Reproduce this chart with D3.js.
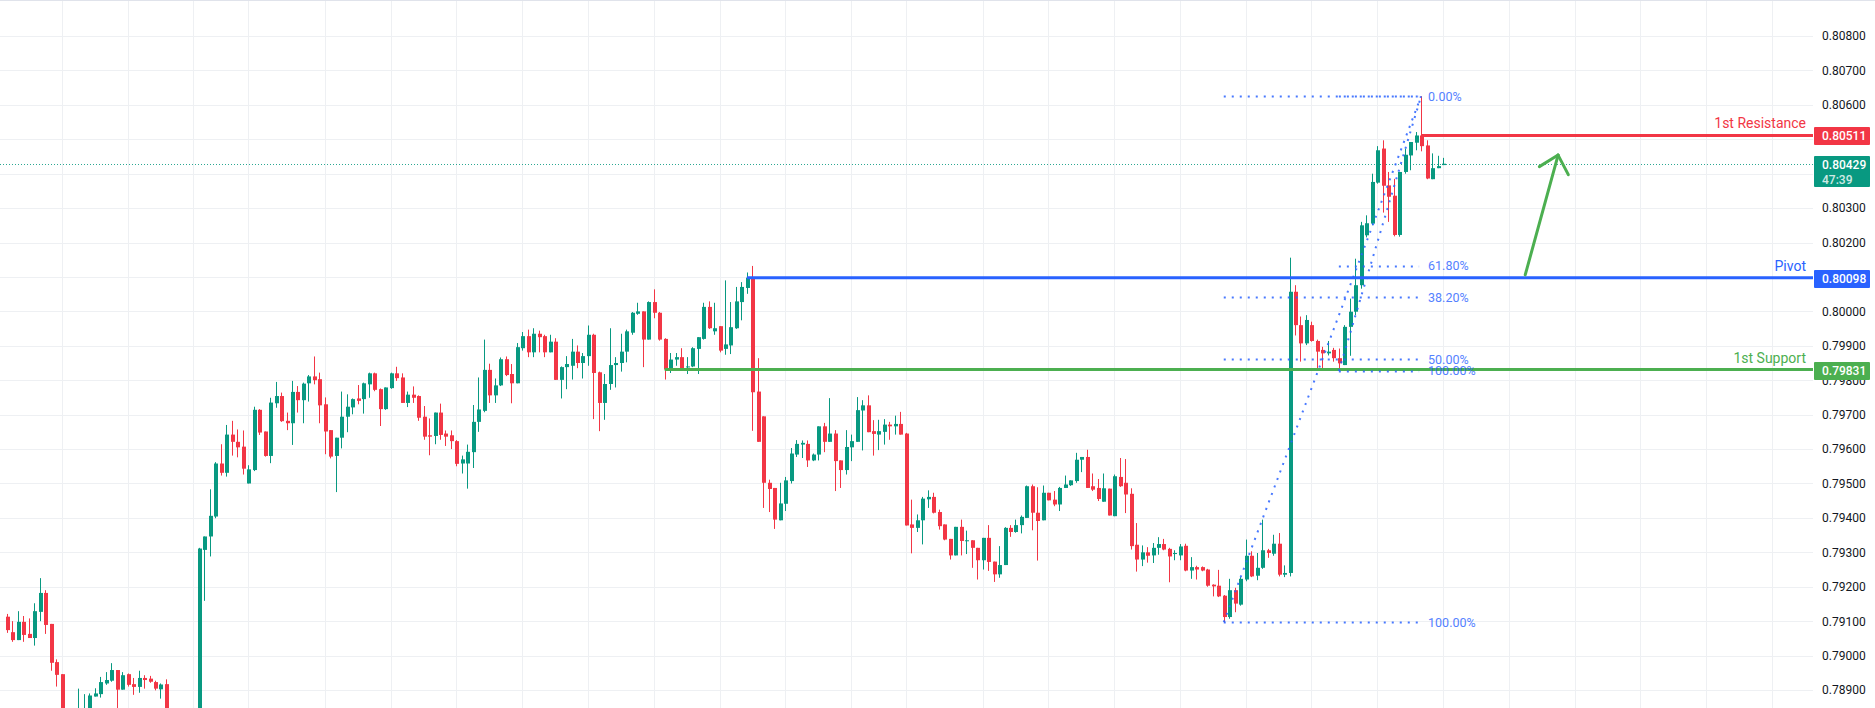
<!DOCTYPE html>
<html><head><meta charset="utf-8">
<script src="https://cdn.jsdelivr.net/npm/d3@7"></script>
<style>html,body{margin:0;padding:0;background:#fff;}svg{display:block;}</style>
</head><body>
<svg id="chart" width="1875" height="708"></svg>
<script>
// ---------- DATA ----------
const openP = [
.79113,.79068,.79045,.79098,.79063,.79051,.79127,.79182,.79092,.78981,
.78946,.78800,.78770,.78800,.78810,.78830,.78881,.78888,.78919,.78927,
.78958,.78901,.78946,.78917,.78909,.78935,.78933,.78923,.78902,.78917,
.78830,.78790,.78810,.78780,.78800,.78770,.79307,.79346,.79404,.79558,
.79531,.79642,.79621,.79607,.79500,.79539,.79714,.79651,.79580,.79733,
.79754,.79682,.79675,.79766,.79742,.79791,.79811,.79803,.79730,.79655,
.79580,.79633,.79694,.79721,.79747,.79745,.79788,.79820,.79774,.79716,
.79777,.79820,.79808,.79734,.79758,.79754,.79694,.79640,.79638,.79706,
.79645,.79640,.79623,.79558,.79558,.79591,.79679,.79711,.79830,.79756,
.79785,.79861,.79818,.79791,.79893,.79928,.79881,.79935,.79928,.79881,
.79912,.79801,.79838,.79842,.79883,.79850,.79870,.79932,.79823,.79734,
.79789,.79844,.79850,.79883,.79938,.79993,.80000,.79918,.80027,.79996,
.79920,.79831,.79860,.79867,.79838,.79840,.79891,.79920,.80013,.79942,
.79957,.79891,.79901,.79951,.80027,.80068,.80100,.79767,.79695,.79502,
.79487,.79393,.79441,.79507,.79584,.79613,.79615,.79567,.79584,.79666,
.79621,.79645,.79567,.79539,.79605,.79621,.79712,.79727,.79652,.79642,
.79650,.79671,.79666,.79673,.79645,.79381,.79371,.79393,.79454,.79461,
.79417,.79381,.79339,.79291,.79374,.79333,.79335,.79313,.79277,.79342,
.79273,.79236,.79263,.79371,.79359,.79379,.79400,.79492,.79415,.79393,
.79473,.79453,.79439,.79487,.79495,.79507,.79569,.79577,.79492,.79487,
.79447,.79485,.79405,.79519,.79502,.79470,.79322,.79279,.79300,.79291,
.79313,.79324,.79310,.79295,.79291,.79319,.79247,.79257,.79257,.79250,
.79206,.79203,.79174,.79112,.79190,.79148,.79221,.79290,.79232,.79255,
.79306,.79296,.79325,.79235,.79240,.80057,.79960,.79907,.79960,.79914,
.79888,.79878,.79888,.79864,.79844,.79955,.79999,.80076,.80221,.80255,
.80374,.80473,.80366,.80336,.80222,.80405,.80453,.80490,.80511,.80482,
.80384,.80416,.80425];
const highP = [
.79121,.79100,.79129,.79115,.79108,.79152,.79225,.79190,.79092,.78989,
.78946,.78830,.78830,.78904,.78888,.78890,.78905,.78938,.78952,.78978,
.78958,.78952,.78948,.78935,.78956,.78943,.78941,.78927,.78919,.78931,
.78840,.78830,.78825,.78830,.78820,.79313,.79346,.79483,.79562,.79614,
.79670,.79682,.79657,.79654,.79553,.79723,.79716,.79651,.79749,.79795,
.79764,.79706,.79798,.79783,.79793,.79815,.79869,.79822,.79750,.79655,
.79633,.79767,.79759,.79747,.79786,.79793,.79822,.79822,.79776,.79779,
.79822,.79839,.79820,.79767,.79782,.79756,.79725,.79689,.79706,.79732,
.79654,.79654,.79626,.79581,.79613,.79728,.79808,.79918,.79848,.79805,
.79866,.79869,.79847,.79908,.79940,.79947,.79951,.79944,.79932,.79932,
.79922,.79840,.79870,.79920,.79901,.79879,.79959,.79935,.79825,.79818,
.79951,.79867,.79935,.79947,.79998,.80025,.80000,.80029,.80064,.79998,
.79922,.79879,.79879,.79893,.79867,.79896,.79925,.80025,.80029,.80025,
.79957,.80090,.80027,.80071,.80085,.80113,.80132,.79864,.79695,.79511,
.79487,.79502,.79519,.79603,.79626,.79625,.79625,.79587,.79666,.79676,
.79748,.79655,.79567,.79655,.79642,.79751,.79742,.79756,.79684,.79685,
.79687,.79679,.79697,.79708,.79647,.79453,.79410,.79461,.79480,.79473,
.79424,.79381,.79339,.79374,.79395,.79363,.79335,.79313,.79342,.79379,
.79273,.79318,.79373,.79379,.79395,.79407,.79494,.79497,.79489,.79494,
.79473,.79478,.79490,.79523,.79509,.79589,.79577,.79598,.79529,.79513,
.79529,.79485,.79526,.79574,.79571,.79486,.79385,.79320,.79315,.79327,
.79344,.79339,.79313,.79306,.79324,.79325,.79286,.79261,.79259,.79252,
.79207,.79249,.79176,.79223,.79197,.79228,.79337,.79303,.79298,.79395,
.79310,.79351,.79356,.79262,.80156,.80076,.79985,.79989,.79970,.79918,
.79897,.79914,.79894,.79892,.79960,.80037,.80153,.80260,.80279,.80400,
.80480,.80497,.80405,.80385,.80405,.80473,.80492,.80521,.80625,.80497,
.80459,.80452,.80446];
const lowP = [
.79066,.79040,.79045,.79040,.79051,.79029,.79100,.79063,.78956,.78910,
.78780,.78740,.78750,.78790,.78800,.78820,.78881,.78878,.78915,.78924,
.78830,.78901,.78910,.78886,.78892,.78904,.78921,.78899,.78875,.78800,
.78770,.78760,.78760,.78770,.78750,.78760,.79159,.79288,.79399,.79523,
.79520,.79581,.79576,.79526,.79500,.79536,.79641,.79578,.79559,.79720,
.79679,.79655,.79612,.79706,.79675,.79738,.79788,.79675,.79585,.79573,
.79475,.79602,.79649,.79701,.79730,.79703,.79749,.79768,.79667,.79714,
.79775,.79798,.79734,.79722,.79734,.79682,.79627,.79582,.79614,.79627,
.79609,.79600,.79550,.79529,.79485,.79545,.79650,.79707,.79734,.79734,
.79783,.79812,.79733,.79791,.79886,.79867,.79867,.79881,.79867,.79881,
.79801,.79747,.79774,.79802,.79835,.79805,.79842,.79687,.79652,.79685,
.79772,.79779,.79825,.79852,.79932,.79990,.79838,.79918,.79980,.79915,
.79802,.79821,.79842,.79831,.79818,.79838,.79818,.79918,.79949,.79932,
.79881,.79874,.79876,.79949,.79974,.80051,.79653,.79621,.79429,.79417,
.79368,.79393,.79420,.79500,.79577,.79574,.79548,.79565,.79567,.79591,
.79621,.79478,.79487,.79526,.79565,.79621,.79596,.79649,.79581,.79597,
.79613,.79627,.79642,.79642,.79378,.79297,.79359,.79323,.79429,.79413,
.79366,.79335,.79279,.79291,.79291,.79295,.79255,.79221,.79250,.79246,
.79214,.79226,.79263,.79345,.79357,.79355,.79400,.79364,.79276,.79393,
.79451,.79434,.79420,.79487,.79493,.79502,.79533,.79487,.79478,.79449,
.79447,.79407,.79405,.79490,.79414,.79308,.79244,.79260,.79270,.79269,
.79293,.79306,.79213,.79277,.79277,.79245,.79223,.79221,.79245,.79200,
.79172,.79170,.79097,.79107,.79126,.79145,.79216,.79228,.79219,.79252,
.79284,.79290,.79230,.79228,.79230,.79930,.79854,.79902,.79912,.79830,
.79830,.79872,.79854,.79827,.79844,.79871,.79989,.80066,.80215,.80250,
.80371,.80287,.80260,.80218,.80217,.80400,.80410,.80468,.80465,.80384,
.80384,.80416,.80425];
const closeP = [
.79074,.79045,.79098,.79060,.79051,.79129,.79182,.79089,.78979,.78944,
.78800,.78770,.78800,.78840,.78845,.78884,.78890,.78923,.78929,.78958,
.78901,.78943,.78915,.78909,.78935,.78929,.78924,.78904,.78916,.78830,
.78790,.78810,.78780,.78800,.78770,.79311,.79346,.79406,.79558,.79531,
.79642,.79621,.79605,.79543,.79541,.79714,.79648,.79580,.79735,.79754,
.79681,.79675,.79766,.79742,.79790,.79811,.79800,.79727,.79651,.79578,
.79633,.79694,.79723,.79745,.79740,.79791,.79820,.79772,.79716,.79779,
.79820,.79806,.79734,.79758,.79749,.79691,.79636,.79636,.79706,.79641,
.79636,.79623,.79557,.79570,.79592,.79679,.79715,.79830,.79756,.79785,
.79861,.79815,.79791,.79896,.79928,.79881,.79935,.79925,.79881,.79912,
.79801,.79838,.79847,.79883,.79850,.79870,.79932,.79821,.79734,.79789,
.79844,.79850,.79883,.79942,.79996,.80000,.79918,.80027,.79996,.79918,
.79831,.79860,.79867,.79835,.79840,.79893,.79925,.80013,.79951,.79951,
.79886,.79904,.79954,.80029,.80071,.80098,.79765,.79621,.79502,.79484,
.79395,.79442,.79509,.79587,.79615,.79618,.79567,.79584,.79666,.79621,
.79645,.79565,.79539,.79606,.79623,.79713,.79727,.79649,.79644,.79652,
.79671,.79666,.79673,.79642,.79378,.79371,.79393,.79456,.79461,.79415,
.79376,.79337,.79291,.79374,.79333,.79335,.79313,.79277,.79342,.79272,
.79236,.79263,.79371,.79359,.79379,.79403,.79492,.79415,.79391,.79473,
.79451,.79439,.79487,.79497,.79509,.79569,.79577,.79487,.79482,.79455,
.79486,.79407,.79521,.79492,.79468,.79318,.79279,.79300,.79290,.79313,
.79324,.79308,.79288,.79298,.79317,.79247,.79257,.79250,.79247,.79203,
.79201,.79172,.79112,.79190,.79151,.79223,.79290,.79230,.79255,.79306,
.79298,.79325,.79235,.79240,.80057,.79960,.79907,.79975,.79914,.79883,
.79878,.79883,.79864,.79849,.79955,.79999,.80076,.80250,.80256,.80376,
.80468,.80365,.80333,.80222,.80405,.80455,.80492,.80511,.80480,.80386,
.80416,.80422,.80429];

const priceTicks = [0.789,0.790,0.791,0.792,0.793,0.794,0.795,0.796,0.797,0.798,
                    0.799,0.800,0.801,0.802,0.803,0.804,0.805,0.806,0.807,0.808];
const timeGridSlots = [10,22,34,44,58,70,82,94,106,118,130,142,154,164,178,190,202,214,226,238,250,262,274,286,298,310,322];

const levelNames  = ["1st Resistance", "Pivot", "1st Support"];
const levelValues = [0.80511, 0.80098, 0.79831];
const levelStartBar = [258, 135, 120];

const lastPrice = 0.80429;
const countdownText = "47:39";

const fibLowBar  = [222, 243];
const fibLowVal  = [0.79097, 0.79827];
const fibHighBar = [258, 258];
const fibHighVal = [0.80625, 0.80625];
const fibLevels  = [[0, 0.382, 0.5, 1], [0, 0.618, 1]];

const arrowFrom = [277, 0.80106];
const arrowTo   = [283, 0.80454];

// ---------- STYLE ----------
const C_UP = "#089981", C_DN = "#f23645", C_BLUE = "#2962ff", C_GREEN = "#4caf50";
const levelColors = [C_DN, C_BLUE, C_GREEN];
const FONT = "Roboto, 'Liberation Sans', Arial, sans-serif";

const W = 1875, H = 708, plotR = 1813;
const N = openP.length;
const svg = d3.select("#chart");
const x = d3.scaleLinear().domain([0, N - 1]).range([7, 1443]);
const y = d3.scaleLinear().domain([0.789, 0.808]).range([690, 36]);

svg.append("defs").append("clipPath").attr("id", "plotclip")
  .append("rect").attr("x", 0).attr("y", 0).attr("width", plotR).attr("height", H);

// grid
const grid = svg.append("g");
grid.selectAll("line.h").data(priceTicks).join("line")
  .attr("x1", 0).attr("x2", plotR)
  .attr("y1", d => Math.round(y(d)) + 0.5).attr("y2", d => Math.round(y(d)) + 0.5)
  .attr("stroke", "#eef0f3").attr("stroke-width", 1);
grid.selectAll("line.v").data(timeGridSlots).join("line")
  .attr("x1", d => Math.round(x(d)) + 0.5).attr("x2", d => Math.round(x(d)) + 0.5)
  .attr("y1", 0).attr("y2", H)
  .attr("stroke", "#eef0f3").attr("stroke-width", 1);
svg.append("line").attr("x1", 0).attr("x2", W).attr("y1", 0.5).attr("y2", 0.5)
  .attr("stroke", "#e0e3eb");

const plot = svg.append("g").attr("clip-path", "url(#plotclip)");

// last price dotted line
plot.append("line").attr("x1", 0).attr("x2", plotR)
  .attr("y1", Math.round(y(lastPrice)) + 0.5).attr("y2", Math.round(y(lastPrice)) + 0.5)
  .attr("stroke", C_UP).attr("stroke-width", 1).attr("stroke-dasharray", "1,2").attr("opacity", 0.85);

// candles
const bars = plot.append("g");
const idx = d3.range(N);
const col = i => closeP[i] >= openP[i] ? C_UP : C_DN;
bars.selectAll("rect.wick").data(idx).join("rect")
  .attr("x", i => Math.round(x(i)))
  .attr("y", i => y(highP[i]))
  .attr("width", 1)
  .attr("height", i => Math.max(1, y(lowP[i]) - y(highP[i])))
  .attr("fill", col);
bars.selectAll("rect.body").data(idx).join("rect")
  .attr("x", i => Math.round(x(i)) - 1)
  .attr("y", i => y(Math.max(openP[i], closeP[i])))
  .attr("width", 4)
  .attr("height", i => Math.max(1, Math.abs(y(openP[i]) - y(closeP[i]))))
  .attr("fill", col);

// horizontal levels
const lv = plot.append("g");
levelValues.forEach((v, k) => {
  lv.append("line")
    .attr("x1", x(levelStartBar[k])).attr("x2", plotR)
    .attr("y1", y(v)).attr("y2", y(v))
    .attr("stroke", levelColors[k]).attr("stroke-width", 3);
  lv.append("text").text(levelNames[k])
    .attr("x", 1806).attr("y", y(v) - 7)
    .attr("text-anchor", "end").attr("fill", levelColors[k])
    .attr("font-family", FONT).attr("font-size", 14);
});

// fib retracements
const fg = plot.append("g");
const labelled = new Set();
fibLowBar.forEach((lb, k) => {
  const hb = fibHighBar[k], lo = fibLowVal[k], hi = fibHighVal[k];
  fg.append("line")
    .attr("x1", x(lb)).attr("y1", y(lo)).attr("x2", x(hb)).attr("y2", y(hi))
    .attr("stroke", C_BLUE).attr("stroke-width", 2).attr("stroke-dasharray", "2,6").attr("opacity", 0.85);
  fibLevels[k].forEach(p => {
    const v = hi - p * (hi - lo);
    fg.append("line")
      .attr("x1", x(lb)).attr("x2", x(hb) - 2)
      .attr("y1", Math.round(y(v)) + 0.5).attr("y2", Math.round(y(v)) + 0.5)
      .attr("stroke", C_BLUE).attr("stroke-width", 2).attr("stroke-dasharray", "2,6").attr("opacity", 0.85);
    const key = v.toFixed(5);
    if (!labelled.has(key)) {
      labelled.add(key);
      fg.append("text").text((p * 100).toFixed(2) + "%")
        .attr("x", x(hb) + 7).attr("y", y(v)).attr("dy", "0.35em")
        .attr("fill", C_BLUE).attr("opacity", 0.8)
        .attr("font-family", FONT).attr("font-size", 12.5);
    }
  });
});

// arrow
const ax1 = x(arrowFrom[0]), ay1 = y(arrowFrom[1]), ax2 = x(arrowTo[0]), ay2 = y(arrowTo[1]);
const ang = Math.atan2(ay1 - ay2, ax1 - ax2);
const hl = 22, spread = 43 * Math.PI / 180;
const ag = plot.append("g").attr("stroke", C_GREEN).attr("stroke-width", 3).attr("stroke-linecap", "round").attr("fill", "none");
ag.append("line").attr("x1", ax1).attr("y1", ay1).attr("x2", ax2).attr("y2", ay2);
[ang - spread, ang + spread].forEach(a => {
  ag.append("line").attr("x1", ax2).attr("y1", ay2)
    .attr("x2", ax2 + hl * Math.cos(a)).attr("y2", ay2 + hl * Math.sin(a));
});

// price boxes geometry (used to hide axis ticks that they cover)
const boxSpecs = levelValues.map((v, k) => ({ v, color: levelColors[k], lines: [v.toFixed(5)] }));
boxSpecs.push({ v: lastPrice, color: C_UP, lines: [lastPrice.toFixed(5), countdownText] });
boxSpecs.forEach(b => { b.h = b.lines.length > 1 ? 31 : 18; b.top = Math.round(y(b.v)) - 8; });
const covered = t => boxSpecs.some(b => y(t) > b.top + 2 && y(t) < b.top + b.h - 2);

// right price axis
const axis = d3.axisRight(y).tickValues(priceTicks.filter(t => !covered(t)))
  .tickFormat(d3.format(".5f")).tickSize(0).tickPadding(9);
const axg = svg.append("g").attr("transform", `translate(${plotR},0)`).call(axis);
axg.select(".domain").remove();
axg.selectAll("text").attr("fill", "#131722").attr("font-family", FONT).attr("font-size", 12);

// price boxes
const boxes = svg.append("g");
boxSpecs.forEach(b => {
  boxes.append("rect").attr("x", plotR + 1).attr("y", b.top).attr("width", 56).attr("height", b.h)
    .attr("rx", 1).attr("fill", b.color);
  b.lines.forEach((t, j) => {
    boxes.append("text").text(t)
      .attr("x", plotR + 9).attr("y", b.top + 13 + j * 15)
      .attr("fill", "#fff").attr("opacity", j ? 0.8 : 1)
      .attr("font-family", FONT).attr("font-size", 12).attr("font-weight", 500);
  });
});
</script>
</body></html>
